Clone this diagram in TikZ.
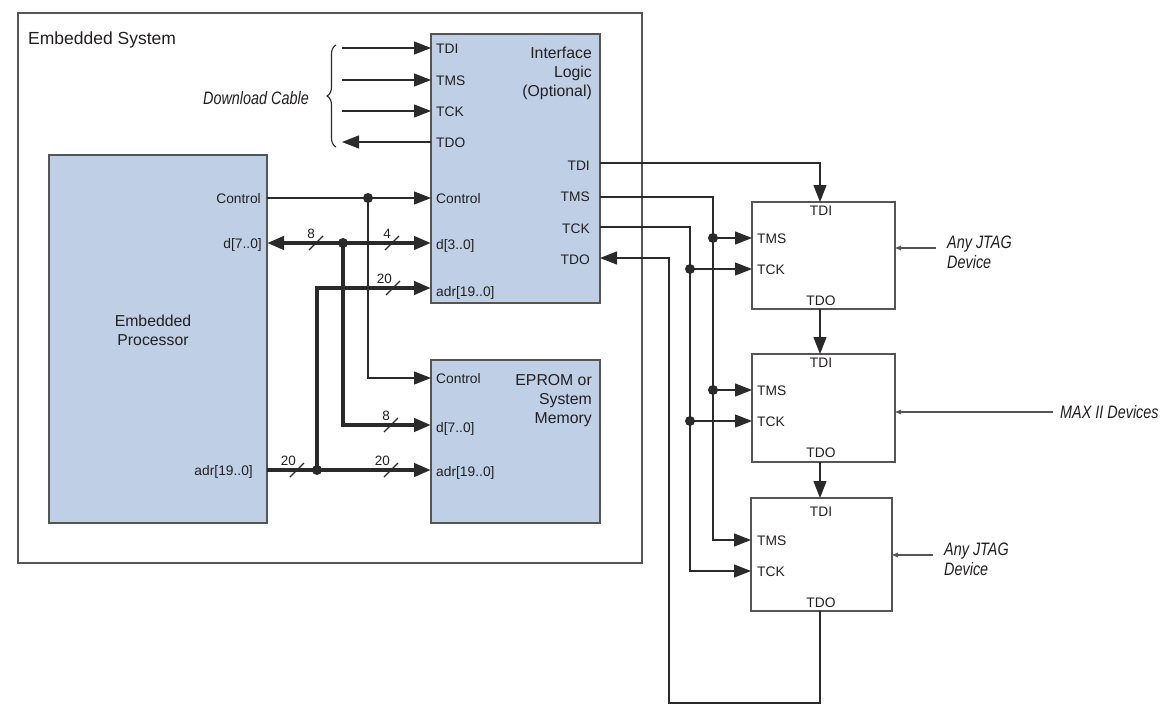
\documentclass[tikz,border=0pt]{standalone}
\usepackage{fontspec}
\setmainfont{Liberation Sans}
\usetikzlibrary{arrows.meta,decorations.pathreplacing}
\definecolor{boxfill}{HTML}{BFD0E6}
\definecolor{edge}{HTML}{555555}
\definecolor{wire}{HTML}{2A2A2A}
\definecolor{ink}{HTML}{231F20}
\begin{document}
\begin{tikzpicture}[x=1pt,y=-1pt,
  frame/.style={draw=edge,line width=1.3pt,anchor=north west,inner sep=0pt,outer sep=0pt},
  bluebox/.style={frame,fill=boxfill},
  devbox/.style={frame,fill=white},
  port/.style={font=\fontsize{13.8}{16}\selectfont,text=ink,inner sep=0pt},
  title/.style={font=\fontsize{15.8}{19}\selectfont,text=ink,inner sep=0pt},
  note/.style={font=\fontsize{18}{21}\selectfont\itshape,text=ink,inner sep=0pt,align=left},
  busnum/.style={font=\fontsize{13.5}{15}\selectfont,text=ink,inner sep=0pt,anchor=south east},
  sig/.style={draw=wire,line width=1.3pt},
  bus/.style={draw=wire,line width=4pt},
  tip/.style={-{Triangle[length=17pt,width=13pt]}},
  smalltip/.style={draw=edge,line width=1.1pt,-{Triangle[length=6pt,width=4.5pt]}},
  dot/.style={circle,fill=wire,inner sep=0pt,minimum size=10pt},
  slash/.style={draw=wire,line width=1.1pt}
]
\useasboundingbox (0,0) rectangle (1173,715);
\fill[white] (0,0) rectangle (1173,715);

% ---------- frame ----------
\node[frame,minimum width=624,minimum height=550] (sys) at (18,13) {};
\node[font=\fontsize{17.5}{20}\selectfont,text=ink,inner sep=0pt,anchor=base west] (systitle) at (28,44) {Embedded System};

% ---------- boxes ----------
\node[bluebox,minimum width=218,minimum height=368] (proc) at (49,155) {};
\node[bluebox,minimum width=169,minimum height=269] (ifl) at (431,34) {};
\node[bluebox,minimum width=169,minimum height=163] (mem) at (431,360) {};
\node[devbox,minimum width=143,minimum height=107] (dev1) at (752,202) {};
\node[devbox,minimum width=143,minimum height=108] (dev2) at (752,354) {};
\node[devbox,minimum width=141,minimum height=113] (dev3) at (751,498) {};

% ---------- box titles ----------
\node[title,align=center] (proctitle) at (153,330) {Embedded\\Processor};
\node[title,align=right,anchor=east] (ifltitle) at (592,73) {Interface\\Logic\\(Optional)};
\node[title,align=right,anchor=east] (memtitle) at (592,401) {EPROM or\\System\\Memory};

% ---------- processor ports ----------
\node[port,anchor=base east] (pctrlL) at (261,203) {Control};
\node[port,anchor=base east] (pdL) at (262,248) {d[7..0]};
\node[port,anchor=base east] (padrL) at (253,475) {adr[19..0]};

% ---------- interface ports ----------
\node[port,anchor=base west] (itdiL) at (436,53) {TDI};
\node[port,anchor=base west] (itmsL) at (436,85) {TMS};
\node[port,anchor=base west] (itckL) at (436,116) {TCK};
\node[port,anchor=base west] (itdoL) at (436,147) {TDO};
\node[port,anchor=base west] (ictrlL) at (436,203) {Control};
\node[port,anchor=base west] (idL) at (436,249) {d[3..0]};
\node[port,anchor=base west] (iadrL) at (436,296) {adr[19..0]};
\node[port,anchor=base east] (otdiL) at (590,170) {TDI};
\node[port,anchor=base east] (otmsL) at (590,201) {TMS};
\node[port,anchor=base east] (otckL) at (590,233) {TCK};
\node[port,anchor=base east] (otdoL) at (590,264) {TDO};

% ---------- memory ports ----------
\node[port,anchor=base west] (mctrlL) at (436,383) {Control};
\node[port,anchor=base west] (mdL) at (436,432) {d[7..0]};
\node[port,anchor=base west] (madrL) at (436,476) {adr[19..0]};

% ---------- device ports ----------
\foreach \d/\t/\m/\c/\b in {1/211/238/269/301, 2/363/390/421/453, 3/512/540/571/603}{
  \node[port] (d\d tdi) at (821,\t) {TDI};
  \node[port,anchor=west] (d\d tms) at (757,\m+1) {TMS};
  \node[port,anchor=west] (d\d tck) at (757,\c+1) {TCK};
  \node[port] (d\d tdo) at (821,\b) {TDO};
}

% ---------- coordinates ----------
\coordinate (pCtrl) at (proc.east |- 0,198);
\coordinate (pD) at (proc.east |- 0,243);
\coordinate (pAdr) at (proc.east |- 0,470);
\coordinate (iCtrl) at (ifl.west |- 0,198);
\coordinate (iD) at (ifl.west |- 0,243);
\coordinate (iAdr) at (ifl.west |- 0,288);
\coordinate (mCtrl) at (mem.west |- 0,378);
\coordinate (mD) at (mem.west |- 0,425);
\coordinate (mAdr) at (mem.west |- 0,470);
\coordinate (jCtrl) at (368,198);
\coordinate (jD) at (343,243);
\coordinate (jAdr) at (317,470);

% ---------- download cable ----------
\coordinate (c1) at (342,48);
\coordinate (c2) at (342,80);
\coordinate (c3) at (342,111);
\coordinate (c4) at (342,142);
\draw[sig,tip] (c1) -- (ifl.west |- c1);
\draw[sig,tip] (c2) -- (ifl.west |- c2);
\draw[sig,tip] (c3) -- (ifl.west |- c3);
\draw[sig,tip] (ifl.west |- c4) -- (c4);
\coordinate (brB) at (336,147);
\coordinate (brT) at (336,45);
\draw[draw=wire,line width=1.1pt,decorate,decoration={brace,amplitude=9pt,aspect=0.5}] (brB) -- (brT);
\node[note,anchor=east] (dlcable) at (309,98) {\scalebox{0.8}[1]{Download Cable}};

% ---------- control ----------
\draw[sig,tip] (pCtrl) -- (iCtrl);
\draw[sig,tip] (jCtrl) |- (mCtrl);
\node[dot] (dCtrl) at (jCtrl) {};

% ---------- data bus ----------
\draw[bus,tip] (jD) -- (pD);
\draw[bus,tip] (jD) -- (iD);
\draw[bus,tip] (jD) |- (mD);
\node[dot] (dD) at (jD) {};

% ---------- address bus ----------
\draw[bus,tip] (pAdr) -- (mAdr);
\draw[bus,tip] (jAdr) |- (iAdr);
\node[dot] (dAdr) at (jAdr) {};

% ---------- bus width marks ----------
\foreach \x/\y/\n/\nm in {316/243/8/s1, 392/243/4/s2, 393/288/20/s3, 391/425/8/s4, 297/470/20/s5, 391/470/20/s6}{
  \draw[slash] (\x-7,\y+7) -- (\x+7,\y-7);
  \node[busnum] (\nm) at (\x-1,\y-4) {\n};
}

% ---------- JTAG chain ----------
\coordinate (oTdi) at (ifl.east |- 0,163);
\coordinate (oTms) at (ifl.east |- 0,197);
\coordinate (oTck) at (ifl.east |- 0,227);
\coordinate (oTdo) at (ifl.east |- 0,258);
\coordinate (vTms) at (713,197);
\coordinate (vTck) at (690,227);
\coordinate (vRet) at (669,703);
\coordinate (chain) at (820,0);

\draw[sig,tip] (oTdi) -| (chain |- dev1.north);
\draw[sig,tip] (oTms) -| (vTms |- 0,540) -- (dev3.west |- 0,540);
\draw[sig,tip] (oTck) -| (vTck |- 0,571) -- (dev3.west |- 0,571);
\draw[sig,tip] (chain |- dev3.south) -- (chain |- vRet) -| (vRet |- oTdo) -- (oTdo);
\draw[sig,tip] (chain |- dev1.south) -- (chain |- dev2.north);
\draw[sig,tip] (chain |- dev2.south) -- (chain |- dev3.north);

\foreach \y/\nm in {238/t1, 390/t2}{
  \draw[sig,tip] (713,\y) -- (dev1.west |- 0,\y);
  \node[dot] (\nm) at (713,\y) {};
}
\foreach \y/\nm in {269/k1, 421/k2}{
  \draw[sig,tip] (690,\y) -- (dev1.west |- 0,\y);
  \node[dot] (\nm) at (690,\y) {};
}

% ---------- right notes ----------
\coordinate (a1) at (936,248);
\coordinate (a2) at (1053,412);
\coordinate (a3) at (933,555);
\draw[smalltip] (a1) -- (dev1.east |- a1);
\draw[smalltip] (a2) -- (dev2.east |- a2);
\draw[smalltip] (a3) -- (dev3.east |- a3);
\node[note,anchor=west] (n1) at (947,252) {\scalebox{0.8}[1]{\shortstack[l]{Any JTAG\\Device}}};
\node[note,anchor=west] (n2) at (1060,412) {\scalebox{0.8}[1]{MAX II Devices}};
\node[note,anchor=west] (n3) at (944,559) {\scalebox{0.8}[1]{\shortstack[l]{Any JTAG\\Device}}};
\end{tikzpicture}
\end{document}
